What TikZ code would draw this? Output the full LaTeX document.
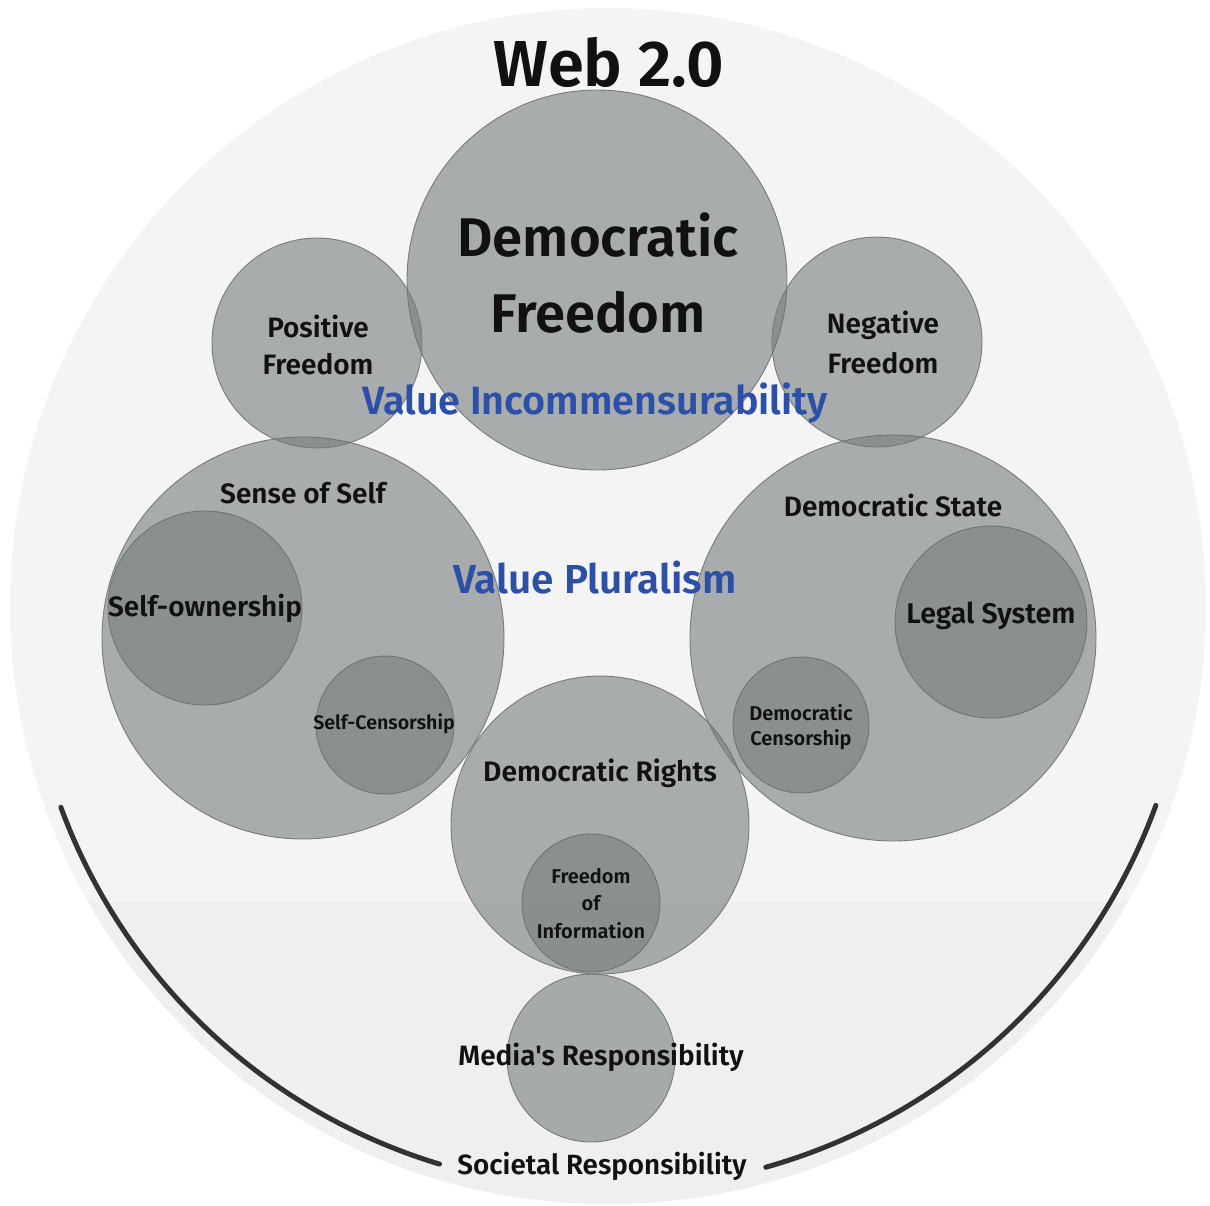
\documentclass[tikz,border=0pt]{standalone}
\usepackage{fontspec}
\setmainfont{Fira Sans}
\newfontfamily\labfont{Fira Sans SemiBold}
\begin{document}
\begin{tikzpicture}[x=1pt,y=-1pt,
  bubble/.style={circle,inner sep=0pt,minimum size=#1,
    fill=bubblefill,fill opacity=0.6,draw=bubbleline,draw opacity=0.85,line width=0.9pt},
  lab/.style={text=labtext,align=center,inner sep=0pt,
    font=\labfont\fontsize{#1}{#1}\selectfont},
  blab/.style={lab=#1,text=valueblue},
  arcline/.style={draw=arcgray,line width=5pt,line cap=round}]
\definecolor{bubblefill}{RGB}{118,124,124}
\definecolor{bubbleline}{RGB}{105,110,110}
\definecolor{bgupper}{RGB}{244,244,244}
\definecolor{bglower}{RGB}{239,239,239}
\definecolor{labtext}{RGB}{17,17,17}
\definecolor{valueblue}{RGB}{44,80,168}
\definecolor{arcgray}{RGB}{50,50,50}

\useasboundingbox[fill=white] (0,0) rectangle (1210,1205);

% outer field
\coordinate (o) at (608,606);
\fill[bgupper] (o) circle[radius=598];
\begin{scope}
  \clip (o) circle[radius=598];
  \fill[bglower] (0,902) rectangle (1210,1205);
\end{scope}

% bubbles
\node[bubble=210pt] (pf) at (317,343) {};
\node[bubble=210pt] (nf) at (877,342) {};
\node[bubble=380pt] (df) at (597,280) {};
\node[bubble=402pt] (ss) at (303,638) {};
\node[bubble=194pt] (so) at (205,608) {};
\node[bubble=138pt] (sc) at (385,725) {};
\node[bubble=406pt] (ds) at (893,638) {};
\node[bubble=192pt] (ls) at (991,622) {};
\node[bubble=136pt] (dc) at (801,725) {};
\node[bubble=298pt] (dr) at (600,825) {};
\node[bubble=138pt] (fi) at (591,903) {};
\node[bubble=168pt] (mr) at (591,1058) {};

% bracket arcs around the lower part
\draw[arcline] ([shift={(159.8:583)}]o) arc[start angle=159.8,end angle=106.8,radius=583];
\draw[arcline] ([shift={(20:583)}]o) arc[start angle=20,end angle=74.3,radius=583];

% labels
\node[lab=65] (tweb) at (609,62) {Web 2.0};
\node[lab=54.5] (tdf1) at (598,235) {Democratic};
\node[lab=54.5] (tdf2) at (598,312) {Freedom};
\node[lab=28] (tpf1) at (318,326) {Positive};
\node[lab=28] (tpf2) at (318,364) {Freedom};
\node[lab=28] (tnf1) at (883,325) {Negative};
\node[lab=28] (tnf2) at (883,363) {Freedom};
\node[blab=39.5] (tvi) at (595,403) {Value Incommensurability};
\node[lab=28] (tss) at (303,493) {Sense of Self};
\node[lab=28] (tso) at (205,608) {Self-ownership};
\node[lab=19.6] (tsc) at (384,724) {Self-Censorship};
\node[blab=40.5] (tvp) at (595,578) {Value Pluralism};
\node[lab=28] (tds) at (893,505) {Democratic State};
\node[lab=28.5] (tls) at (991,616) {Legal System};
\node[lab=20] (tdc1) at (801,713) {Democratic};
\node[lab=20] (tdc2) at (801,740) {Censorship};
\node[lab=28.2] (tdr) at (600,773) {Democratic Rights};
\node[lab=20] (tfi1) at (591,876) {Freedom};
\node[lab=20] (tfi2) at (591,903) {of};
\node[lab=20] (tfi3) at (591,931) {Information};
\node[lab=28] (tmr) at (601,1057) {Media's Responsibility};
\node[lab=27.8] (tsr) at (602,1166) {Societal Responsibility};
\end{tikzpicture}
\end{document}
